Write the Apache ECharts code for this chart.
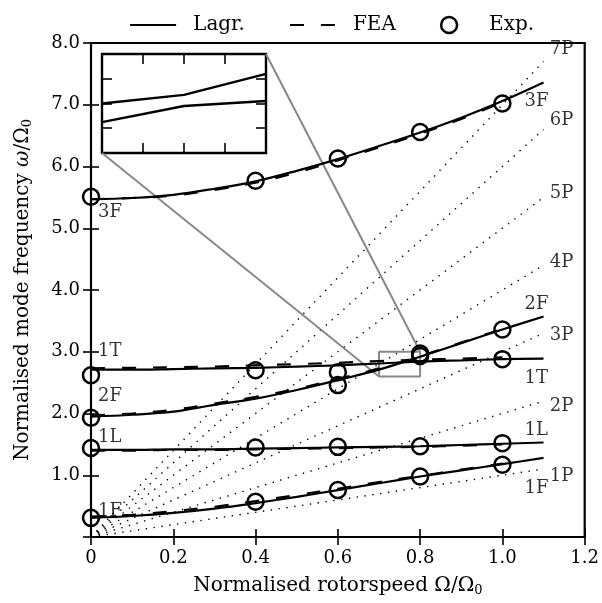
<!DOCTYPE html>
<html><head><meta charset="utf-8">
<script src="https://cdn.jsdelivr.net/npm/echarts@6/dist/echarts.min.js"></script>
<style>html,body{margin:0;padding:0;background:#fff}#c{width:602px;height:603px}</style>
</head><body><div id="c"></div>
<script>
// ---- data ----
const xsLagr = [0, 0.1, 0.2, 0.3, 0.4, 0.5, 0.6, 0.7, 0.8, 0.9, 1.0, 1.1];
const lagr1F = [0.31, 0.34, 0.39, 0.46, 0.55, 0.65, 0.76, 0.87, 0.98, 1.08, 1.18, 1.28];
const lagr1L = [1.41, 1.41, 1.42, 1.42, 1.43, 1.44, 1.45, 1.46, 1.47, 1.49, 1.51, 1.53];
const lagr2F = [1.95, 1.98, 2.03, 2.14, 2.24, 2.38, 2.54, 2.71, 2.92, 3.14, 3.36, 3.57];
const lagr1T = [2.71, 2.71, 2.72, 2.73, 2.74, 2.76, 2.78, 2.81, 2.84, 2.86, 2.88, 2.89];
const lagr3F = [5.47, 5.49, 5.54, 5.64, 5.76, 5.93, 6.12, 6.33, 6.55, 6.79, 7.06, 7.36];

const xsFEA = [0, 0.1, 0.2, 0.3, 0.4, 0.5, 0.6, 0.7, 0.8, 0.9, 1.0];
const fea1F = [0.33, 0.36, 0.42, 0.49, 0.58, 0.68, 0.78, 0.89, 0.99, 1.09, 1.19];
const fea1L = [1.40, 1.40, 1.41, 1.41, 1.42, 1.43, 1.44, 1.45, 1.46, 1.48, 1.50];
const fea2F = [1.97, 2.00, 2.06, 2.16, 2.27, 2.40, 2.56, 2.73, 2.93, 3.15, 3.37];
const fea1T = [2.73, 2.74, 2.75, 2.76, 2.78, 2.80, 2.82, 2.85, 2.87, 2.89, 2.91];
const fea3F = [5.47, 5.49, 5.53, 5.62, 5.74, 5.90, 6.10, 6.31, 6.53, 6.77, 7.04];

const expX = [0, 0, 0, 0, 0, 0.4, 0.4, 0.4, 0.4, 0.6, 0.6, 0.6, 0.6, 0.6, 0.8, 0.8, 0.8, 0.8, 0.8, 1.0, 1.0, 1.0, 1.0, 1.0];
const expY = [0.31, 1.44, 1.93, 2.62, 5.51, 0.57, 1.45, 2.70, 5.77, 0.76, 1.46, 2.46, 2.67, 6.13, 0.98, 1.47, 2.93, 2.97, 6.56, 1.17, 1.52, 2.88, 3.36, 7.02];

const pNames = ['1P', '2P', '3P', '4P', '5P', '6P', '7P'];
const pEndX = 1.1;
const pEndY = [1.1, 2.2, 3.3, 4.4, 5.5, 6.6, 7.7];

const insetX = [0.7, 0.75, 0.8];
const insetA = [2.80, 2.835, 2.92];
const insetB = [2.725, 2.79, 2.81];
const zoomBox = {x0: 0.7, x1: 0.8, y0: 2.6, y1: 3.0};

const xTicks = {min: 0, max: 1.2, interval: 0.2};
const yTicks = {min: 0, max: 8, interval: 1};

// curve annotations (text, x, y)
const curveLabels = [
  ['3F', 0.017, 5.26], ['1T', 0.017, 3.0], ['2F', 0.017, 2.27], ['1L', 0.017, 1.62], ['1F', 0.017, 0.42],
  ['3F', 1.054, 7.06], ['2F', 1.054, 3.76], ['1T', 1.054, 2.57], ['1L', 1.054, 1.73], ['1F', 1.054, 0.79],
  ['7P', 1.115, 7.90], ['6P', 1.115, 6.74], ['5P', 1.115, 5.57], ['4P', 1.115, 4.45], ['3P', 1.115, 3.27], ['2P', 1.115, 2.12], ['1P', 1.115, 0.99]
];

// ---- chart ----
const F = 'DejaVu Serif';
const chart = echarts.init(document.getElementById('c'));
const pairs = (xs, ys) => ys.map((y, i) => [xs[i], y]);
const tickStyle = {show: true, inside: true, length: 8, lineStyle: {color: '#000', width: 1.6}};
const tickInset = {show: true, inside: true, length: 10, lineStyle: {color: '#000', width: 1.6}};
const noLine = {show: false};

function lineSeries(name, xs, ys, dashed) {
  return {
    name: name, type: 'line', xAxisIndex: 0, yAxisIndex: 0, data: pairs(xs, ys),
    smooth: 0.35, symbol: 'none', silent: true, z: dashed ? 3 : 4, color: '#000',
    lineStyle: {color: '#000', width: 2.2, type: dashed ? [14, 17] : 'solid'}
  };
}

const series = [];
pEndY.forEach((e, i) => {
  series.push({type: 'line', xAxisIndex: 0, yAxisIndex: 0, data: [[0, 0], [pEndX, e]],
    symbol: 'none', silent: true, z: 1,
    lineStyle: {color: '#000', width: 1.4, type: [1.4, 6.5]}});
});
[lagr1F, lagr1L, lagr2F, lagr1T, lagr3F].forEach(a => series.push(lineSeries('Lagr.', xsLagr, a, false)));
[fea1F, fea1L, fea2F, fea1T, fea3F].forEach(a => series.push(lineSeries('FEA', xsFEA, a, true)));
const circleStyle = {color: 'rgba(0,0,0,0)', borderColor: '#000', borderWidth: 2.5, opacity: 1};
series.push({
  name: 'Exp.', type: 'scatter', xAxisIndex: 0, yAxisIndex: 0, data: pairs(expX, expY),
  symbol: 'circle', symbolSize: 16, z: 5, silent: true, color: '#000',
  itemStyle: circleStyle
});
// zoom rectangle
series.push({type: 'line', xAxisIndex: 0, yAxisIndex: 0, symbol: 'none', silent: true, z: 2,
  data: [[zoomBox.x0, zoomBox.y0], [zoomBox.x1, zoomBox.y0], [zoomBox.x1, zoomBox.y1], [zoomBox.x0, zoomBox.y1], [zoomBox.x0, zoomBox.y0]],
  lineStyle: {color: '#888', width: 2}});
// labels
series.push({type: 'scatter', xAxisIndex: 0, yAxisIndex: 0, symbolSize: 0, silent: true, z: 6, clip: false,
  data: curveLabels.map(l => [l[1], l[2], l[0]]),
  label: {show: true, position: 'right', distance: 0, formatter: p => p.data[2],
    fontFamily: F, fontSize: 18, color: '#000'}});
// inset lines
[insetA, insetB].forEach(a => series.push({type: 'line', xAxisIndex: 2, yAxisIndex: 2, data: pairs(insetX, a),
  symbol: 'none', silent: true, z: 4, lineStyle: {color: '#000', width: 2.4}}));

const richSub = {
  s: {fontFamily: F, fontSize: 13, padding: [9, 0, 0, 0], color: '#000'},
  i: {fontFamily: F, fontSize: 20, fontStyle: 'italic', color: '#000'}
};

const hideSym = {color: 'rgba(0,0,0,0)', borderWidth: 0, opacity: 0};
const option = {
  animation: false,
  backgroundColor: '#fff',
  textStyle: {fontFamily: F},
  grid: [
    {left: 91, top: 43, width: 494, height: 494, show: true, borderColor: '#000', borderWidth: 2.2},
    {left: 102, top: 54, width: 164, height: 99, show: true, borderColor: '#000', borderWidth: 2.4, backgroundColor: '#fff'}
  ],
  legend: {
    data: [
      {name: 'Lagr.', itemStyle: hideSym},
      {name: 'FEA', itemStyle: hideSym},
      {name: 'Exp.', icon: 'circle', itemStyle: circleStyle}
    ],
    left: 124, top: 10, itemWidth: 46, itemHeight: 16, itemGap: 44,
    selectedMode: false,
    lineStyle: {color: '#000', width: 2.2},
    textStyle: {fontFamily: F, fontSize: 20, color: '#000', padding: [0, 0, 0, 12]}
  },
  xAxis: [
    {gridIndex: 0, type: 'value', position: 'bottom', min: xTicks.min, max: xTicks.max, interval: xTicks.interval,
      axisLine: noLine, axisTick: tickStyle, splitLine: noLine,
      axisLabel: {color: '#000', fontFamily: F, fontSize: 18, margin: 12, formatter: v => v === 0 ? '0' : v.toFixed(1)},
      name: 'Normalised rotorspeed Ω/Ω{s|0}', nameLocation: 'middle', nameGap: 38,
      nameTextStyle: {fontFamily: F, fontSize: 20, color: '#000', rich: richSub}},
    {gridIndex: 0, type: 'value', position: 'top', min: xTicks.min, max: xTicks.max, interval: xTicks.interval,
      axisLine: noLine, axisTick: tickStyle, splitLine: noLine, axisLabel: noLine},
    {gridIndex: 1, type: 'value', position: 'bottom', min: zoomBox.x0, max: zoomBox.x1, interval: 0.025,
      axisLine: noLine, axisTick: tickInset, splitLine: noLine, axisLabel: noLine},
    {gridIndex: 1, type: 'value', position: 'top', min: zoomBox.x0, max: zoomBox.x1, interval: 0.025,
      axisLine: noLine, axisTick: tickInset, splitLine: noLine, axisLabel: noLine}
  ],
  yAxis: [
    {gridIndex: 0, type: 'value', position: 'left', min: yTicks.min, max: yTicks.max, interval: yTicks.interval,
      axisLine: noLine, axisTick: tickStyle, splitLine: noLine,
      axisLabel: {color: '#000', fontFamily: F, fontSize: 18, margin: 11, formatter: v => v === 0 ? '' : v.toFixed(1)},
      name: 'Normalised mode frequency {i|ω}/Ω{s|0}', nameLocation: 'middle', nameGap: 57,
      nameTextStyle: {fontFamily: F, fontSize: 20, color: '#000', rich: richSub}},
    {gridIndex: 0, type: 'value', position: 'right', min: yTicks.min, max: yTicks.max, interval: yTicks.interval,
      axisLine: noLine, axisTick: tickStyle, splitLine: noLine, axisLabel: noLine},
    {gridIndex: 1, type: 'value', position: 'left', min: zoomBox.y0, max: zoomBox.y1, interval: 0.1,
      axisLine: noLine, axisTick: tickInset, splitLine: noLine, axisLabel: noLine},
    {gridIndex: 1, type: 'value', position: 'right', min: zoomBox.y0, max: zoomBox.y1, interval: 0.1,
      axisLine: noLine, axisTick: tickInset, splitLine: noLine, axisLabel: noLine}
  ],
  series: series
};
chart.setOption(option);

// connector lines from inset corners to the zoom rectangle
const inTR = chart.convertToPixel({xAxisIndex: 2, yAxisIndex: 2}, [zoomBox.x1, zoomBox.y1]);
const inBL = chart.convertToPixel({xAxisIndex: 2, yAxisIndex: 2}, [zoomBox.x0, zoomBox.y0]);
const rTR = chart.convertToPixel({xAxisIndex: 0, yAxisIndex: 0}, [zoomBox.x1, zoomBox.y1]);
const rBL = chart.convertToPixel({xAxisIndex: 0, yAxisIndex: 0}, [zoomBox.x0, zoomBox.y0]);
chart.setOption({graphic: [
  {type: 'line', shape: {x1: inTR[0], y1: inTR[1], x2: rTR[0], y2: rTR[1]}, style: {stroke: '#888', lineWidth: 2}, z: 2, silent: true},
  {type: 'line', shape: {x1: inBL[0], y1: inBL[1], x2: rBL[0], y2: rBL[1]}, style: {stroke: '#888', lineWidth: 2}, z: 2, silent: true}
]});
</script></body></html>
